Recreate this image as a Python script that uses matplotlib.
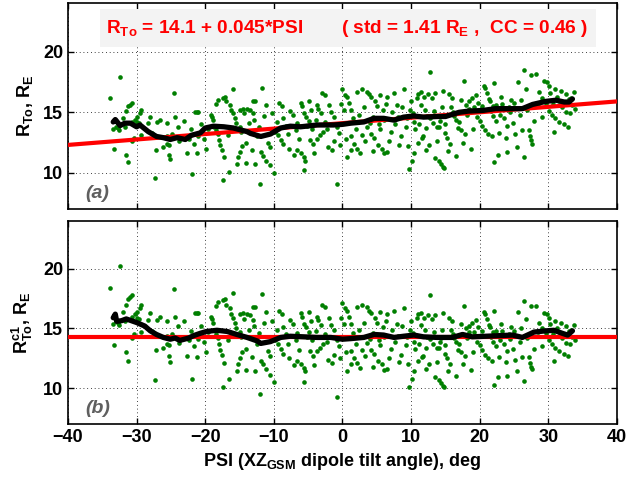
import matplotlib
matplotlib.use("Agg")
import matplotlib.pyplot as plt
from matplotlib.patches import Rectangle

plt.rcParams['font.family'] = ['Liberation Sans', 'DejaVu Sans']
plt.rcParams['font.weight'] = 'bold'
plt.rcParams['mathtext.fontset'] = 'custom'
plt.rcParams['mathtext.rm'] = 'Liberation Sans:bold'
plt.rcParams['mathtext.bf'] = 'Liberation Sans:bold'
plt.rcParams['mathtext.it'] = 'Liberation Sans:italic:bold'
plt.rcParams['mathtext.default'] = 'rm'

# dipole tilt angle of each crossing (deg), shared by both panels
psi = [-33.8, -33.5, -33.3, -33.0, -32.7, -32.5, -32.4, -32.0, -31.7, -31.6,
       -31.5, -31.2, -31.2, -30.9, -30.7, -30.7, -30.6, -30.4, -30.2, -30.0,
       -29.9, -29.7, -29.5, -29.3, -29.3, -28.4, -28.1, -27.3, -27.2, -27.0,
       -26.6, -25.6, -25.5, -25.5, -25.3, -25.3, -25.1, -24.9, -24.5, -24.4,
       -23.8, -23.7, -22.7, -22.4, -21.9, -21.7, -21.5, -21.2, -21.2, -21.0,
       -21.1, -20.2, -19.6, -19.2, -19.0, -18.8, -18.7, -18.5, -18.4, -18.2,
       -18.2, -18.0, -17.8, -17.5, -17.4, -17.4, -17.3, -17.1, -16.9, -16.6,
       -16.4, -16.2, -16.0, -15.9, -15.7, -15.5, -15.4, -15.2, -15.0, -15.0,
       -15.0, -14.8, -14.5, -14.3, -14.1, -14.0, -13.9, -13.5, -13.2, -13.1,
       -13.0, -12.9, -12.8, -12.7, -12.4, -12.2, -12.0, -11.9, -11.7, -11.6,
       -11.4, -11.1, -10.9, -10.6, -10.5, -10.0, -9.8, -9.4, -9.0, -8.8,
       -8.7, -8.6, -8.3, -7.6, -6.6, -6.6, -6.1, -6.1, -5.9, -5.6,
       -5.6, -5.6, -5.4, -5.3, -4.9, -4.7, -4.6, -4.3, -4.2, -3.7,
       -3.5, -3.7, -3.3, -3.2, -3.0, -2.8, -2.5, -2.3, -2.0, -1.5,
       -1.3, -0.8, -0.8, -0.2, 0.0, 0.2, 0.4, 0.6, 0.7, 0.9,
       1.2, 1.2, 1.2, 1.7, 2.1, 2.1, 2.6, 2.9, 3.6, 3.6,
       3.8, 4.0, 4.1, 4.2, 4.6, 4.8, 5.0, 5.2, 5.5, 5.5,
       5.7, 5.9, 6.0, 6.3, 6.5, 6.5, 7.0, 7.5, 7.9, 8.1,
       8.5, 8.9, 9.2, 9.7, 9.9, 10.1, 10.2, 10.4, 10.4, 10.6,
       10.8, 11.0, 11.0, 11.4, 11.5, 11.8, 11.9, 12.0, 12.3, 12.4,
       12.6, 12.8, 12.8, 13.0, 13.2, 13.5, 13.5, 13.8, 14.0, 14.1,
       14.3, 14.4, 14.5, 14.6, 14.6, 14.8, 14.9, 15.2, 15.5, 15.6,
       15.8, 16.0, 16.1, 16.3, 16.5, 16.6, 17.0, 17.3, 17.5, 17.7,
       17.8, 18.0, 18.4, 18.5, 18.9, 19.2, 19.4, 19.6, 20.1, 20.3,
       20.6, 20.8, 20.8, 21.0, 21.2, 21.3, 21.5, 21.6, 21.8, 22.0,
       22.1, 22.1, 22.3, 22.4, 22.6, 22.8, 23.0, 23.3, 23.5, 23.8,
       24.0, 24.3, 24.6, 24.8, 25.2, 25.5, 25.8, 26.2, 26.5, 26.5,
       26.7, 27.2, 27.3, 27.4, 27.5, 27.6, 28.2, 28.5, 29.0, 29.4,
       29.8, 30.1, 30.1, 30.3, 30.5, 30.8, 30.9, 31.0, 31.3, 31.6,
       31.8, 32.0, 32.2, 32.5, 32.8, 33.0, 33.2, 33.5, 33.7, 33.9,
       -9.5, -9.2, -8.0, -7.8, -7.2, -7.0, -6.8, -6.4, -5.2, -4.9,
       -4.4, -3.9, -2.6, -2.1, -1.7, -1.2, -0.5, -0.3, 0.3, 0.5,
       1.5, 1.9, 2.4, 2.8, 3.1, 3.3, 4.4, 4.5, 5.3, 6.1,
       6.8, 7.2, 7.7, 8.3, 8.7, 9.4, 9.6, 10.0, 11.2, 11.6,
       12.1, 12.2, 13.3, 13.7, 14.2, 15.0, 15.3, 16.8, 17.2, 18.2,
       18.7, 19.0, 19.8, 20.3, 21.9, 23.1, 24.0, 24.4, 25.0, 25.4,
       26.0, 26.9, 27.9, 28.7, 29.1, 29.6, 30.6, 31.5, 32.6, 33.3,
       -27.8, -26.2, -24.0, -23.1, -22.0, -20.6, -19.9, -16.7, -14.6, -13.6,
       -11.2, -10.3]

# R_To (panel a), R_E
r_to = [16.2, 13.6, 12.0, 13.8, 13.7, 13.5, 17.9, 14.5, 13.8, 11.5,
        15.1, 15.5, 10.9, 15.6, 15.8, 14.2, 12.6, 12.9, 14.4, 14.2,
        14.6, 14.1, 14.9, 15.2, 13.1, 14.1, 14.6, 9.6, 11.9, 14.2,
        14.4, 13.0, 12.4, 14.1, 12.3, 11.5, 11.1, 13.2, 16.6, 14.6,
        12.6, 13.0, 11.6, 12.8, 9.9, 12.4, 15.0, 15.0, 11.6, 15.0,
        13.0, 12.8, 13.6, 14.8, 14.6, 14.4, 13.8, 13.5, 15.7, 16.0,
        13.2, 12.7, 12.3, 11.9, 9.4, 16.2, 11.3, 16.3, 15.9, 10.1,
        15.6, 15.2, 14.9, 16.9, 14.5, 14.1, 10.7, 11.3, 13.8, 15.2,
        11.7, 13.4, 15.3, 14.9, 10.8, 12.5, 15.25, 15.2, 11.9, 15.9,
        14.9, 14.4, 10.75, 15.9, 13.0, 13.8, 9.05, 11.7, 17.0, 11.4,
        14.7, 11.0, 12.5, 10.6, 12.1, 10.0, 13.4, 13.1, 12.7, 15.5,
        12.4, 14.5, 13.9, 15.1, 14.1, 11.9, 15.75, 11.6, 15.5, 11.3,
        10.2, 14.9, 11.0, 14.6, 15.9, 12.7, 15.2, 12.4, 11.6, 15.6,
        15.3, 12.8, 13.1, 14.9, 16.6, 13.4, 16.45, 13.6, 15.6, 11.9,
        12.6, 9.1, 13.8, 15.7, 16.9, 15.2, 16.45, 16.3, 11.3, 15.8,
        13.0, 11.9, 15.2, 12.4, 12.0, 16.7, 11.6, 16.9, 16.7, 13.8,
        16.5, 14.1, 16.3, 13.2, 12.9, 15.9, 15.5, 12.3, 16.45, 13.6,
        12.0, 15.2, 11.6, 15.7, 11.7, 16.3, 13.4, 16.6, 15.6, 14.6,
        13.0, 16.9, 13.8, 10.3, 15.2, 11.0, 14.9, 11.6, 14.2, 13.6,
        16.2, 16.5, 12.5, 16.7, 15.6, 13.0, 16.3, 15.2, 14.7, 16.5,
        12.3, 18.3, 14.5, 16.2, 14.1, 11.2, 16.6, 13.8, 11.0, 13.8,
        10.7, 14.7, 15.4, 16.8, 10.5, 10.4, 13.3, 12.9, 16.5, 12.4,
        15.4, 16.2, 15.0, 14.7, 11.4, 14.4, 14.2, 13.5, 12.5, 17.6,
        13.2, 15.6, 15.3, 15.9, 16.2, 15.4, 16.4, 14.6, 14.3, 13.9,
        17.2, 13.5, 17.0, 16.6, 13.2, 16.1, 15.9, 15.1, 13.0, 15.5,
        17.4, 10.9, 14.3, 15.6, 11.5, 13.3, 14.8, 15.7, 14.5, 12.9,
        11.7, 15.4, 16.0, 14.1, 13.2, 17.5, 14.8, 13.5, 18.5, 11.3,
        16.9, 13.5, 13.0, 18.1, 12.7, 12.4, 18.2, 15.5, 16.2, 17.6,
        17.5, 15.1, 17.2, 16.6, 14.8, 13.35, 16.9, 14.5, 16.3, 14.2,
        16.8, 15.4, 14.0, 16.5, 13.8, 16.1, 14.9, 15.6, 16.7, 15.3,
        14.2, 15.8, 13.2, 12.0, 14.8, 11.5, 13.5, 12.8, 13.9, 14.3,
        13.6, 14.4, 14.2, 12.1, 15.0, 14.6, 13.3, 12.3, 14.1, 12.8,
        14.5, 13.6, 14.8, 13.1, 15.4, 12.6, 14.6, 11.8, 14.0, 14.4,
        12.6, 15.0, 14.0, 12.3, 15.4, 14.5, 12.2, 15.9, 14.0, 12.9,
        11.9, 13.7, 15.1, 12.6, 14.3, 14.0, 11.8, 13.7, 16.0, 14.8,
        12.0, 13.6, 15.8, 15.5, 14.7, 16.3, 13.9, 15.0, 15.8, 12.1,
        16.0, 15.2, 14.3, 16.7, 14.6, 15.8, 15.7, 15.9, 15.0, 16.2,
        13.3, 12.1, 13.8, 14.3, 13.6, 14.0, 12.0, 13.1, 12.2, 14.1,
        15.6, 14.9]

# R_To^c1 (panel b), R_E
r_c1 = [18.4, 15.4, 13.6, 15.6, 15.5, 15.3, 20.2, 16.4, 15.6, 13.0,
        17.0, 17.5, 12.3, 17.6, 17.8, 16.0, 14.2, 14.5, 16.2, 15.9,
        16.4, 15.8, 16.7, 17.0, 14.7, 15.7, 16.3, 10.7, 13.2, 15.7,
        16.0, 14.4, 13.7, 15.6, 13.6, 12.7, 12.2, 14.5, 18.3, 16.0,
        13.8, 14.3, 12.7, 14.0, 10.8, 13.5, 16.3, 16.3, 12.6, 16.3,
        14.1, 13.9, 14.7, 16.0, 15.8, 15.5, 14.9, 14.5, 16.9, 17.2,
        14.2, 13.7, 13.2, 12.8, 10.1, 17.4, 12.1, 17.5, 17.0, 10.8,
        16.7, 16.2, 15.9, 18.0, 15.5, 15.0, 11.4, 12.0, 14.7, 16.2,
        12.5, 14.3, 16.3, 15.8, 11.5, 13.3, 16.2, 16.1, 12.6, 16.8,
        15.7, 15.2, 11.4, 16.8, 13.7, 14.6, 9.5, 12.3, 17.9, 12.0,
        15.5, 11.6, 13.1, 11.1, 12.7, 10.5, 14.0, 13.7, 13.3, 16.2,
        12.9, 15.1, 14.5, 15.7, 14.6, 12.3, 16.3, 12.0, 16.0, 11.7,
        10.5, 15.4, 11.4, 15.1, 16.4, 13.1, 15.6, 12.7, 11.9, 16.0,
        15.7, 13.1, 13.4, 15.3, 17.0, 13.7, 16.8, 13.9, 15.9, 12.1,
        12.8, 9.3, 14.0, 15.9, 17.1, 15.4, 16.7, 16.5, 11.4, 16.0,
        13.1, 12.0, 15.4, 12.5, 12.1, 16.8, 11.7, 17.0, 16.8, 13.8,
        16.5, 14.1, 16.3, 13.2, 12.9, 15.9, 15.5, 12.3, 16.4, 13.6,
        12.0, 15.1, 11.5, 15.6, 11.6, 16.2, 13.3, 16.5, 15.4, 14.4,
        12.8, 16.7, 13.6, 10.1, 14.9, 10.8, 14.6, 11.4, 13.9, 13.3,
        15.9, 16.2, 12.3, 16.3, 15.3, 12.7, 15.9, 14.9, 14.3, 16.1,
        12.0, 17.8, 14.1, 15.8, 13.7, 10.9, 16.1, 13.4, 10.7, 13.4,
        10.4, 14.2, 14.9, 16.3, 10.2, 10.1, 12.9, 12.5, 15.9, 12.0,
        14.9, 15.6, 14.5, 14.2, 11.0, 13.9, 13.7, 13.0, 12.0, 16.9,
        12.7, 15.0, 14.7, 15.2, 15.5, 14.7, 15.7, 13.9, 13.6, 13.2,
        16.4, 12.8, 16.2, 15.8, 12.5, 15.3, 15.1, 14.3, 12.3, 14.7,
        16.5, 10.3, 13.5, 14.8, 10.9, 12.6, 14.0, 14.8, 13.7, 12.2,
        11.0, 14.5, 15.1, 13.3, 12.4, 16.4, 13.9, 12.6, 17.3, 10.6,
        15.8, 12.6, 12.1, 16.9, 11.8, 11.6, 16.9, 14.4, 15.0, 16.3,
        16.2, 14.0, 15.9, 15.4, 13.7, 12.3, 15.6, 13.4, 15.0, 13.1,
        15.5, 14.2, 12.9, 15.2, 12.7, 14.8, 13.7, 14.3, 15.3, 14.0,
        14.9, 16.5, 13.7, 12.5, 15.4, 11.9, 14.0, 13.2, 14.3, 14.7,
        14.0, 14.8, 14.5, 12.4, 15.3, 14.9, 13.5, 12.5, 14.3, 13.0,
        14.6, 13.7, 14.9, 13.2, 15.5, 12.7, 14.6, 11.8, 14.0, 14.3,
        12.5, 14.9, 13.9, 12.2, 15.2, 14.3, 12.0, 15.6, 13.7, 12.6,
        11.6, 13.4, 14.7, 12.2, 13.9, 13.6, 11.4, 13.2, 15.4, 14.2,
        11.5, 13.0, 15.1, 14.8, 13.9, 15.4, 13.1, 14.1, 14.8, 11.4,
        15.0, 14.2, 13.3, 15.5, 13.5, 14.6, 14.5, 14.7, 13.8, 14.9,
        14.8, 13.4, 15.2, 15.6, 14.8, 15.2, 13.0, 14.0, 13.0, 14.9,
        16.4, 15.6]

# running means (black curves)
run_psi_a = [-33.4, -33.1, -32.4, -31.7, -30.9, -30.0, -29.5, -28.3, -27.1, -26.1,
             -25.1, -24.1, -22.9, -22.0, -20.7, -20.0, -18.8, -17.3, -15.9, -13.9,
             -13.4, -11.9, -10.5, -9.0, -7.6, -6.1, -3.7, -1.3, 0.0, 1.2,
             3.1, 4.6, 6.0, 7.5, 8.9, 10.4, 11.8, 13.8, 15.0, 17.0,
             18.4, 20.4, 22.3, 24.3, 26.2, 27.7, 29.6, 31.1, 32.3, 33.0, 33.5]
run_a = [14.2, 14.4, 13.9, 14.1, 14.1, 13.8, 13.95, 13.4, 13.0, 12.9,
         12.75, 12.9, 12.75, 13.1, 13.3, 13.7, 13.85, 13.8, 13.7, 13.4,
         13.25, 13.0, 13.2, 13.7, 13.85, 13.8, 13.95, 13.95, 14.0, 14.1,
         14.2, 14.5, 14.5, 14.35, 14.6, 14.7, 14.6, 14.65, 14.65, 15.0,
         15.1, 15.15, 15.3, 15.3, 15.3, 15.65, 15.9, 16.0, 15.85, 15.85, 16.1]
run_psi_b = [-33.4, -33.1, -32.9, -32.2, -31.5, -30.0, -28.8, -28.0, -27.1, -26.1,
             -25.1, -24.4, -23.7, -22.4, -21.7, -20.7, -19.8, -18.3, -16.8, -15.4,
             -13.9, -12.4, -11.9, -10.5, -9.0, -7.6, -5.6, -3.7, -1.7, 0.0,
             1.2, 3.1, 4.6, 6.0, 7.5, 8.9, 10.4, 11.8, 13.8, 16.0,
             17.5, 18.9, 20.9, 22.8, 24.8, 26.2, 27.9, 29.6, 30.8, 32.0, 32.8, 33.5]
run_b = [15.9, 16.2, 15.6, 15.65, 15.8, 15.5, 15.2, 14.8, 14.5, 14.25,
         14.1, 14.2, 14.0, 14.2, 14.4, 14.6, 14.75, 14.85, 14.75, 14.5,
         14.25, 13.95, 13.75, 13.9, 14.25, 14.35, 14.3, 14.25, 14.25, 14.1,
         14.15, 14.25, 14.5, 14.45, 14.25, 14.35, 14.45, 14.3, 14.25, 14.25,
         14.5, 14.3, 14.35, 14.4, 14.45, 14.25, 14.7, 14.8, 14.85, 14.6, 14.45, 14.8]

# linear fit for panel a, constant level for panel b
fit_psi = [-40, 40]
fit_a = [14.1 + 0.045 * p for p in fit_psi]
fit_b = [14.3, 14.3]

fig = plt.figure(figsize=(6.29, 4.79), dpi=100)
ax1 = fig.add_axes([0.108, 0.5637, 0.873, 0.429])
ax2 = fig.add_axes([0.108, 0.1148, 0.873, 0.4238])

green = '#007f00'
for ax, yv, rp, rv, fy in [(ax1, r_to, run_psi_a, run_a, fit_a),
                           (ax2, r_c1, run_psi_b, run_b, fit_b)]:
    ax.scatter(psi, yv, s=11, color=green, linewidths=0, zorder=2)
    ax.plot(fit_psi, fy, color='red', lw=3.0, zorder=3)
    ax.plot(rp, rv, color='black', lw=3.8, zorder=4, solid_capstyle='round')
    ax.set_xlim(-40, 40)
    ax.set_ylim(7, 24)
    ax.set_xticks(range(-40, 41, 10))
    ax.set_yticks([10, 15, 20])
    ax.grid(True, color='black', linestyle=(0, (1, 3.5)), linewidth=0.6)
    ax.set_axisbelow(True)
    ax.tick_params(direction='in', length=4, width=1, top=True, right=True,
                   labelsize=13)
    for lab in ax.get_xticklabels() + ax.get_yticklabels():
        lab.set_fontweight('bold')
    for sp in ax.spines.values():
        sp.set_linewidth(1.2)

ax1.tick_params(labelbottom=False)

ax1.set_ylabel(r'R$_{\rm To}$, R$_{\rm E}$', fontsize=13, fontweight='bold', labelpad=6)
ax2.set_ylabel(r'R$^{\rm c1}_{\rm To}$, R$_{\rm E}$', fontsize=13, fontweight='bold', labelpad=6)
ax2.set_xlabel(r'PSI (XZ$_{\rm GSM}$ dipole tilt angle), deg', fontsize=13,
               fontweight='bold', labelpad=4)

ax1.add_patch(Rectangle((0.0576, 0.79), 0.904, 0.182, transform=ax1.transAxes,
                        facecolor='#f3f3f3', edgecolor='none', zorder=5))
ax1.text(0.069, 0.856, r'R$_{\rm To}$ = 14.1 + 0.045*PSI', transform=ax1.transAxes,
         color='red', fontsize=13.7, fontweight='bold', va='baseline', zorder=6)
ax1.text(0.497, 0.856, r'( std = 1.41 R$_{\rm E}$ ,  CC = 0.46 )', transform=ax1.transAxes,
         color='red', fontsize=13.7, fontweight='bold', va='baseline', zorder=6)

ax1.text(0.031, 0.073, '(a)', transform=ax1.transAxes, color='#5f5f5f', fontsize=14,
         fontweight='bold', fontstyle='italic', va='center')
ax2.text(0.031, 0.074, '(b)', transform=ax2.transAxes, color='#5f5f5f', fontsize=14,
         fontweight='bold', fontstyle='italic', va='center')

fig.savefig('out.png', dpi=100)
